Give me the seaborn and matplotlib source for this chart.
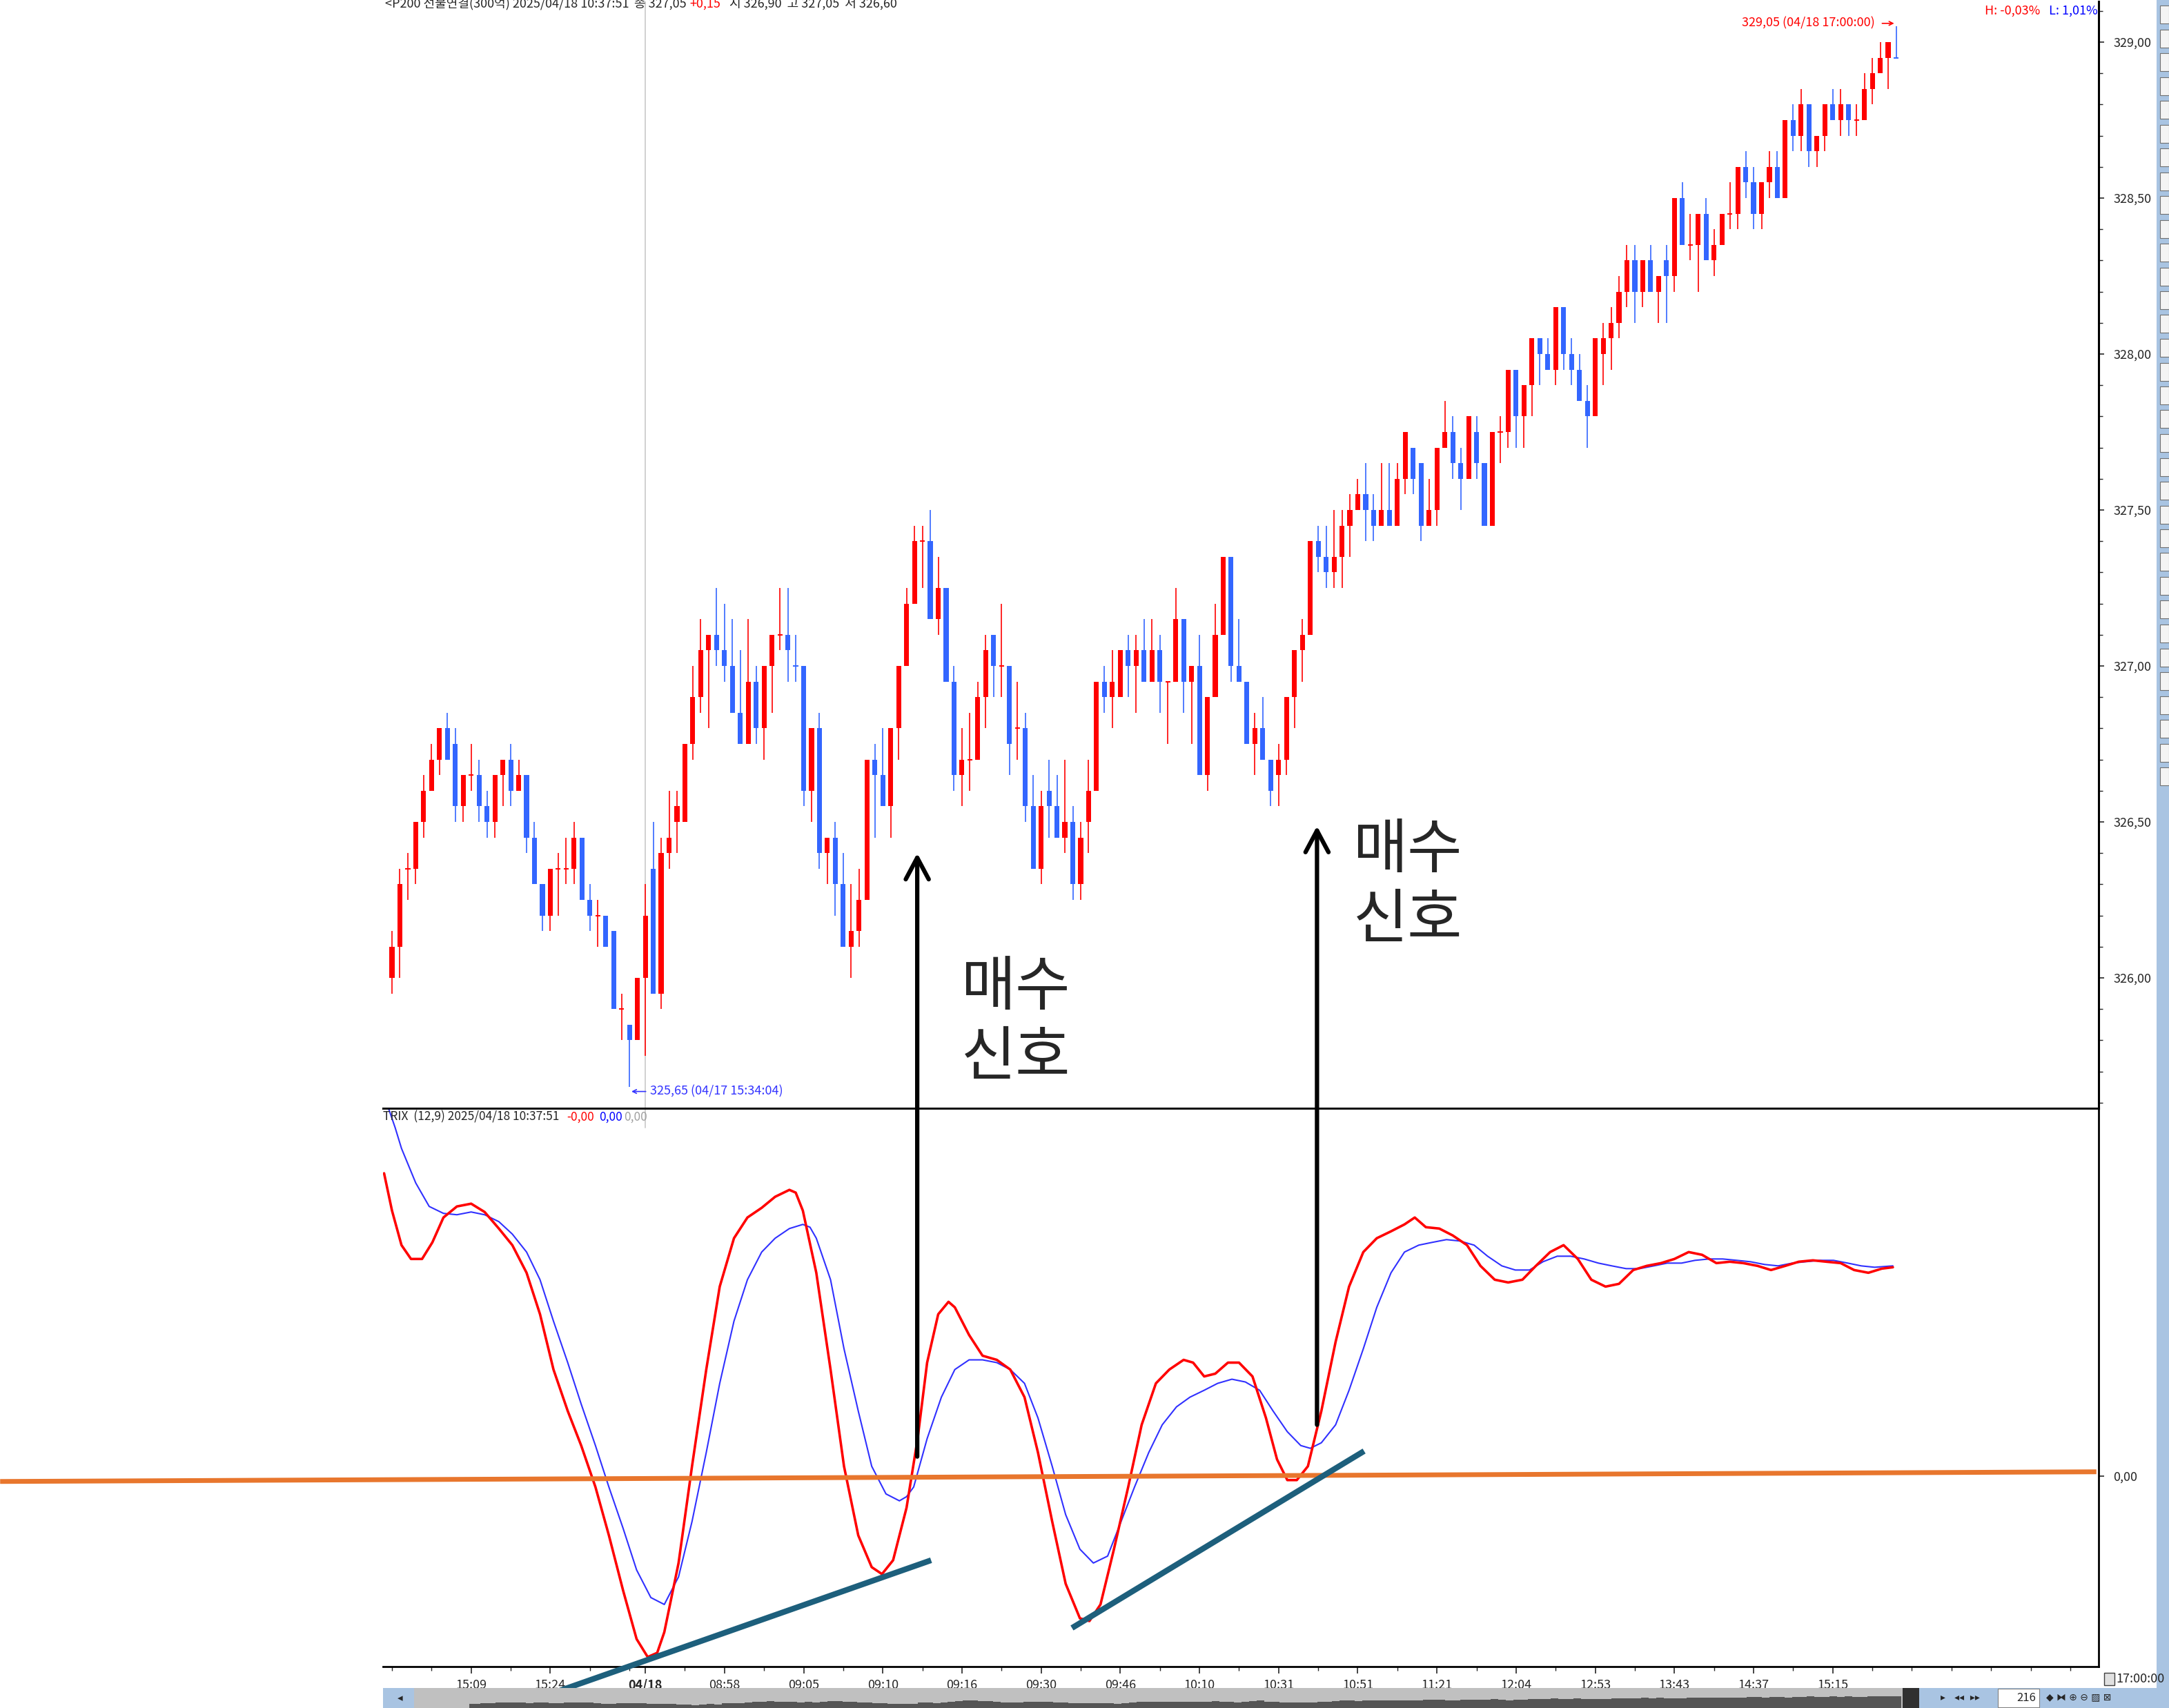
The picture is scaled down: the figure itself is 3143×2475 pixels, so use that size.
import numpy as np
import pandas as pd
import matplotlib
matplotlib.use("Agg")
import matplotlib.pyplot as plt
import seaborn as sns
from matplotlib.patches import ConnectionPatch, Rectangle

# ---- 5분봉 OHLC (KP200 선물) ----
opens = [326.00, 326.10, 326.35, 326.35, 326.50, 326.60, 326.70, 326.80, 326.75, 326.55,
         326.65, 326.65, 326.55, 326.50, 326.65, 326.70, 326.60, 326.65, 326.45, 326.30,
         326.20, 326.35, 326.35, 326.35, 326.45, 326.25, 326.20, 326.20, 326.15, 325.90,
         325.85, 325.80, 326.00, 326.35, 325.95, 326.40, 326.50, 326.50, 326.75, 326.90,
         327.05, 327.10, 327.05, 327.00, 326.85, 326.75, 326.95, 326.80, 327.00, 327.10,
         327.10, 327.00, 327.00, 326.60, 326.80, 326.40, 326.45, 326.30, 326.10, 326.15,
         326.25, 326.70, 326.65, 326.55, 326.80, 327.00, 327.20, 327.40, 327.40, 327.15,
         327.25, 326.95, 326.65, 326.70, 326.70, 326.90, 327.10, 327.00, 327.00, 326.80,
         326.80, 326.55, 326.35, 326.60, 326.55, 326.45, 326.50, 326.30, 326.50, 326.60,
         326.95, 326.90, 326.90, 327.05, 327.00, 327.05, 326.95, 327.05, 326.95, 326.95,
         327.15, 326.95, 327.00, 326.65, 326.90, 327.10, 327.35, 327.00, 326.95, 326.75,
         326.80, 326.70, 326.65, 326.70, 326.90, 327.05, 327.10, 327.40, 327.35, 327.30,
         327.35, 327.45, 327.50, 327.55, 327.50, 327.45, 327.50, 327.45, 327.60, 327.70,
         327.65, 327.45, 327.50, 327.70, 327.75, 327.65, 327.60, 327.75, 327.65, 327.45,
         327.75, 327.75, 327.95, 327.80, 327.90, 328.05, 328.00, 327.95, 328.15, 328.00,
         327.95, 327.85, 327.80, 328.00, 328.05, 328.10, 328.20, 328.30, 328.20, 328.30,
         328.20, 328.30, 328.25, 328.50, 328.35, 328.35, 328.45, 328.30, 328.35, 328.45,
         328.45, 328.60, 328.55, 328.45, 328.55, 328.60, 328.50, 328.75, 328.70, 328.80,
         328.65, 328.70, 328.80, 328.75, 328.80, 328.75, 328.75, 328.85, 328.90, 328.95,
         328.95]
highs = [326.15, 326.35, 326.40, 326.50, 326.65, 326.75, 326.80, 326.85, 326.80, 326.65,
         326.75, 326.70, 326.60, 326.65, 326.70, 326.75, 326.70, 326.65, 326.50, 326.30,
         326.35, 326.40, 326.45, 326.50, 326.45, 326.30, 326.25, 326.20, 326.15, 325.95,
         325.85, 326.00, 326.30, 326.50, 326.45, 326.60, 326.60, 326.75, 327.00, 327.15,
         327.10, 327.25, 327.20, 327.15, 327.05, 327.15, 327.00, 327.00, 327.10, 327.25,
         327.25, 327.10, 327.00, 326.80, 326.85, 326.45, 326.50, 326.40, 326.30, 326.35,
         326.70, 326.75, 326.80, 326.80, 327.00, 327.25, 327.45, 327.45, 327.50, 327.35,
         327.25, 327.00, 326.80, 326.85, 326.95, 327.10, 327.10, 327.20, 327.00, 326.95,
         326.85, 326.65, 326.60, 326.70, 326.65, 326.70, 326.55, 326.50, 326.70, 326.95,
         327.00, 327.05, 327.05, 327.10, 327.10, 327.15, 327.15, 327.10, 326.95, 327.25,
         327.15, 327.00, 327.10, 326.90, 327.20, 327.35, 327.35, 327.15, 326.95, 326.85,
         326.90, 326.70, 326.75, 326.90, 327.05, 327.15, 327.40, 327.45, 327.45, 327.50,
         327.50, 327.55, 327.60, 327.65, 327.55, 327.65, 327.65, 327.65, 327.75, 327.70,
         327.65, 327.60, 327.70, 327.85, 327.80, 327.70, 327.80, 327.80, 327.65, 327.75,
         327.80, 327.95, 327.95, 327.90, 328.05, 328.05, 328.05, 328.15, 328.15, 328.05,
         328.00, 327.90, 328.05, 328.10, 328.15, 328.25, 328.35, 328.35, 328.30, 328.35,
         328.25, 328.35, 328.50, 328.55, 328.45, 328.45, 328.50, 328.40, 328.45, 328.55,
         328.60, 328.65, 328.60, 328.55, 328.65, 328.65, 328.75, 328.80, 328.85, 328.80,
         328.70, 328.80, 328.85, 328.85, 328.80, 328.80, 328.90, 328.95, 329.00, 329.00,
         329.05]
lows = [325.95, 326.00, 326.25, 326.30, 326.45, 326.60, 326.65, 326.70, 326.50, 326.50,
        326.60, 326.50, 326.45, 326.45, 326.55, 326.55, 326.60, 326.40, 326.30, 326.15,
        326.15, 326.20, 326.30, 326.30, 326.25, 326.15, 326.10, 326.10, 325.90, 325.80,
        325.65, 325.80, 325.75, 325.95, 325.90, 326.35, 326.40, 326.50, 326.70, 326.85,
        326.80, 327.00, 326.95, 326.85, 326.75, 326.75, 326.75, 326.70, 326.85, 327.05,
        326.95, 326.95, 326.55, 326.50, 326.35, 326.30, 326.20, 326.10, 326.00, 326.10,
        326.25, 326.45, 326.55, 326.45, 326.70, 327.00, 327.20, 327.25, 327.15, 327.10,
        326.95, 326.60, 326.55, 326.60, 326.70, 326.80, 326.90, 326.90, 326.65, 326.70,
        326.50, 326.35, 326.30, 326.45, 326.45, 326.40, 326.25, 326.25, 326.40, 326.60,
        326.85, 326.80, 326.90, 326.90, 326.85, 326.95, 326.95, 326.85, 326.75, 326.95,
        326.85, 326.75, 326.65, 326.60, 326.90, 327.10, 326.95, 326.95, 326.75, 326.65,
        326.70, 326.55, 326.55, 326.65, 326.80, 326.95, 327.10, 327.30, 327.25, 327.25,
        327.25, 327.35, 327.50, 327.40, 327.40, 327.45, 327.45, 327.45, 327.55, 327.55,
        327.40, 327.45, 327.45, 327.70, 327.60, 327.50, 327.60, 327.60, 327.45, 327.45,
        327.65, 327.70, 327.70, 327.70, 327.80, 327.90, 327.95, 327.90, 327.95, 327.90,
        327.85, 327.70, 327.80, 327.90, 327.95, 328.05, 328.15, 328.10, 328.15, 328.20,
        328.10, 328.10, 328.20, 328.35, 328.30, 328.20, 328.30, 328.25, 328.35, 328.40,
        328.40, 328.50, 328.40, 328.40, 328.50, 328.50, 328.50, 328.65, 328.65, 328.60,
        328.60, 328.65, 328.75, 328.70, 328.70, 328.70, 328.75, 328.80, 328.90, 328.85,
        328.95]
closes = [326.10, 326.30, 326.35, 326.50, 326.60, 326.70, 326.80, 326.70, 326.55, 326.65,
          326.65, 326.55, 326.50, 326.65, 326.70, 326.60, 326.65, 326.45, 326.30, 326.20,
          326.35, 326.35, 326.35, 326.45, 326.25, 326.20, 326.20, 326.10, 325.90, 325.90,
          325.80, 326.00, 326.20, 325.95, 326.40, 326.45, 326.55, 326.75, 326.90, 327.05,
          327.10, 327.05, 327.00, 326.85, 326.75, 326.95, 326.80, 327.00, 327.10, 327.10,
          327.05, 327.00, 326.60, 326.80, 326.40, 326.45, 326.30, 326.10, 326.15, 326.25,
          326.70, 326.65, 326.55, 326.80, 327.00, 327.20, 327.40, 327.40, 327.15, 327.25,
          326.95, 326.65, 326.70, 326.70, 326.90, 327.05, 327.00, 327.00, 326.75, 326.80,
          326.55, 326.35, 326.55, 326.55, 326.45, 326.50, 326.30, 326.45, 326.60, 326.95,
          326.90, 326.95, 327.05, 327.00, 327.05, 326.95, 327.05, 326.95, 326.95, 327.15,
          326.95, 327.00, 326.65, 326.90, 327.10, 327.35, 327.00, 326.95, 326.75, 326.80,
          326.70, 326.60, 326.70, 326.90, 327.05, 327.10, 327.40, 327.35, 327.30, 327.35,
          327.45, 327.50, 327.55, 327.50, 327.45, 327.50, 327.45, 327.60, 327.75, 327.60,
          327.45, 327.50, 327.70, 327.75, 327.65, 327.60, 327.80, 327.65, 327.45, 327.75,
          327.75, 327.95, 327.80, 327.90, 328.05, 328.00, 327.95, 328.15, 328.00, 327.95,
          327.85, 327.80, 328.05, 328.05, 328.10, 328.20, 328.30, 328.20, 328.30, 328.20,
          328.25, 328.25, 328.50, 328.35, 328.35, 328.45, 328.30, 328.35, 328.45, 328.45,
          328.60, 328.55, 328.45, 328.55, 328.60, 328.50, 328.75, 328.70, 328.80, 328.65,
          328.70, 328.80, 328.75, 328.80, 328.75, 328.75, 328.85, 328.90, 328.95, 329.00,
          328.95]

# ---- TRIX(12) 와 시그널(9) ----
trix_x = [-1.0, 0.0, 1.2, 2.4, 3.8, 5.1, 6.5, 8.2, 10.0, 11.7, 13.5, 15.2, 17.0, 18.7, 20.4,
          22.2, 23.9, 25.7, 27.4, 29.2, 30.9, 32.3, 33.5, 34.4, 36.2, 37.9, 39.7, 41.4, 43.2,
          44.9, 46.7, 48.4, 50.2, 51.0, 51.9, 53.6, 55.4, 57.1, 58.9, 60.6, 61.9, 63.3, 65.0,
          66.4, 67.6, 69.0, 70.3, 71.1, 72.9, 74.6, 76.4, 78.1, 79.9, 81.6, 83.4, 85.1, 86.9,
          88.1, 89.5, 91.2, 93.0, 94.7, 96.5, 98.2, 100.0, 101.2, 102.6, 104.0, 105.6, 107.0,
          108.7, 110.4, 111.8, 113.1, 114.3, 115.7, 117.4, 119.2, 120.9, 122.7, 124.4, 126.2,
          127.9, 129.2, 130.6, 132.3, 134.0, 135.8, 137.5, 139.3, 141.0, 142.8, 144.5, 146.3,
          148.0, 149.8, 151.5, 153.3, 155.0, 156.8, 158.5, 160.3, 162.0, 163.8, 165.5, 167.3,
          169.0, 170.7, 172.5, 174.2, 176.0, 177.7, 179.5, 181.2, 183.0, 184.7, 186.5, 188.2,
          189.6]
trix_val = [0.0219, 0.0192, 0.0167, 0.0157, 0.0157, 0.0169, 0.0187, 0.0195, 0.0197, 0.0191,
            0.0179, 0.0167, 0.0147, 0.0117, 0.0077, 0.0047, 0.0022, -0.0008, -0.0043, -0.0083,
            -0.0118, -0.0131, -0.0128, -0.0113, -0.0063, 0.0007, 0.0077, 0.0137, 0.0172, 0.0187,
            0.0194, 0.0202, 0.0207, 0.0205, 0.0192, 0.0147, 0.0077, 0.0007, -0.0043, -0.0066,
            -0.0071, -0.0061, -0.0023, 0.0027, 0.0082, 0.0117, 0.0126, 0.0122, 0.0102, 0.0087,
            0.0084, 0.0077, 0.0057, 0.0017, -0.0033, -0.0078, -0.0103, -0.0105, -0.0093, -0.0053,
            -0.0008, 0.0037, 0.0067, 0.0077, 0.0084, 0.0082, 0.0072, 0.0074, 0.0082, 0.0082,
            0.0072, 0.0042, 0.0012, -0.0003, -0.0003, 0.0007, 0.0047, 0.0097, 0.0137, 0.0162,
            0.0172, 0.0177, 0.0182, 0.0187, 0.0180, 0.0179, 0.0174, 0.0167, 0.0152, 0.0142,
            0.0140, 0.0142, 0.0152, 0.0162, 0.0167, 0.0157, 0.0142, 0.0137, 0.0139, 0.0149,
            0.0152, 0.0154, 0.0157, 0.0162, 0.0160, 0.0154, 0.0155, 0.0154, 0.0152, 0.0149,
            0.0152, 0.0155, 0.0156, 0.0155, 0.0154, 0.0149, 0.0147, 0.0150, 0.0151]
signal_x = [-0.5, 0.4, 1.2, 3.0, 4.7, 6.5, 8.2, 10.0, 11.7, 13.5, 15.2, 17.0, 18.7, 20.4, 22.2,
            23.9, 25.7, 27.4, 29.2, 30.9, 32.7, 34.4, 36.2, 37.9, 39.7, 41.4, 43.2, 44.9, 46.7,
            48.4, 50.2, 51.9, 52.8, 53.6, 55.4, 57.1, 58.9, 60.6, 62.4, 64.1, 65.0, 65.9, 67.6,
            69.4, 71.1, 72.9, 74.6, 76.4, 78.1, 79.9, 81.6, 83.4, 85.1, 86.9, 88.6, 90.4, 92.1,
            93.8, 95.6, 97.3, 99.1, 100.8, 102.6, 104.3, 106.1, 107.8, 109.6, 111.3, 113.1,
            114.8, 116.0, 117.4, 119.2, 120.9, 122.7, 124.4, 126.2, 127.9, 129.7, 131.4, 133.2,
            134.9, 136.7, 138.4, 140.2, 141.9, 143.7, 145.4, 147.2, 148.9, 150.6, 152.4, 154.1,
            155.9, 157.6, 159.4, 161.1, 162.9, 164.6, 166.4, 168.1, 169.9, 171.6, 173.4, 175.1,
            176.9, 178.6, 180.4, 182.1, 183.9, 185.6, 187.3, 189.6]
signal_val = [0.0267, 0.0252, 0.0237, 0.0212, 0.0195, 0.0190, 0.0189, 0.0191, 0.0189, 0.0184,
              0.0175, 0.0162, 0.0142, 0.0112, 0.0082, 0.0052, 0.0022, -0.0008, -0.0038, -0.0068,
              -0.0088, -0.0093, -0.0073, -0.0033, 0.0017, 0.0067, 0.0112, 0.0142, 0.0162, 0.0172,
              0.0179, 0.0182, 0.0180, 0.0172, 0.0142, 0.0092, 0.0047, 0.0007, -0.0013, -0.0018,
              -0.0015, -0.0008, 0.0027, 0.0057, 0.0077, 0.0084, 0.0084, 0.0082, 0.0077, 0.0067,
              0.0042, 0.0007, -0.0028, -0.0053, -0.0063, -0.0058, -0.0033, -0.0008, 0.0017, 0.0037,
              0.0050, 0.0057, 0.0062, 0.0067, 0.0070, 0.0068, 0.0062, 0.0047, 0.0032, 0.0022,
              0.0020, 0.0024, 0.0037, 0.0062, 0.0092, 0.0122, 0.0147, 0.0162, 0.0167, 0.0169,
              0.0171, 0.0170, 0.0167, 0.0159, 0.0152, 0.0149, 0.0149, 0.0155, 0.0159, 0.0159,
              0.0157, 0.0154, 0.0152, 0.0150, 0.0150, 0.0152, 0.0154, 0.0154, 0.0156, 0.0157,
              0.0157, 0.0156, 0.0155, 0.0153, 0.0152, 0.0154, 0.0155, 0.0156, 0.0156, 0.0154,
              0.0152, 0.0151, 0.0152]

tick_pos = [10, 20, 32, 42, 52, 62, 72, 82, 92, 102, 112, 122, 132, 142, 152, 162, 172, 182]
tick_labels = ["15:09", "15:24", "04/18", "08:58", "09:05", "09:10", "09:16", "09:30", "09:46",
               "10:10", "10:31", "10:51", "11:21", "12:04", "12:53", "13:43", "14:37", "15:15"]
minor_pos = list(range(0, 31, 5)) + list(range(32, 216, 5))

sns.set_style("white")
plt.rcParams["font.family"] = ["Liberation Sans Narrow", "Noto Sans CJK KR", "DejaVu Sans"]
plt.rcParams["axes.unicode_minus"] = False

df = pd.DataFrame({"o": opens, "h": highs, "l": lows, "c": closes})
df["i"] = np.arange(len(df))
prev = df["c"].shift(1).fillna(df["o"])
up = (df["c"] > df["o"]) | ((df["c"] == df["o"]) & (df["c"] >= prev))
df["col"] = np.where(up, "#ff0000", "#3366ff")

fig = plt.figure(figsize=(31.43, 24.75), dpi=100)
ax = fig.add_axes([0.1766, 0.3511, 0.791, 0.6481])
ax2 = fig.add_axes([0.1766, 0.0242, 0.791, 0.3269])
xlim = (-1.13, 215.6)

# candles
ax.axvline(32, color="#c8c8c8", lw=1.2, zorder=0)
ax.vlines(df["i"], df["l"], df["h"], colors=df["col"], lw=1.2, zorder=2)
body = df[df["c"] != df["o"]]
ax.bar(body["i"], (body["c"] - body["o"]).abs(), bottom=body[["o", "c"]].min(axis=1),
       width=0.62, color=body["col"], lw=0, zorder=3)
doji = df[df["c"] == df["o"]]
ax.hlines(doji["c"], doji["i"] - 0.31, doji["i"] + 0.31, colors=doji["col"], lw=1.4, zorder=3)

ax.set_xlim(*xlim)
ax.set_ylim(325.582, 329.1305)
ax.yaxis.tick_right()
ax.set_yticks(np.arange(326.0, 329.01, 0.5))
ax.set_yticks(np.arange(325.6, 329.11, 0.1), minor=True)
ax.set_yticklabels([f"{v:.2f}".replace(".", ",") for v in np.arange(326.0, 329.01, 0.5)])
ax.tick_params(axis="y", which="major", direction="out", length=6, width=1.2,
               labelsize=13, pad=9, right=True, left=False)
ax.tick_params(axis="y", which="minor", direction="out", length=4, width=1.0, right=True)
ax.set_xticks([])
for s in ["left", "top"]:
    ax.spines[s].set_visible(False)
ax.spines["right"].set_linewidth(2.2)
ax.spines["bottom"].set_linewidth(2.2)
ax.spines["right"].set_color("black")
ax.spines["bottom"].set_color("black")

# price labels
ax.text(170.5, 329.06, "329,05 (04/18 17:00:00)", color="#ff0000", fontsize=13,
        va="center", ha="left")
ax.annotate("", xy=(190.0, 329.06), xytext=(188.0, 329.06),
            arrowprops=dict(arrowstyle="->", color="#ff0000", lw=1.2))
ax.text(32.6, 325.636, "325,65 (04/17 15:34:04)", color="#3333ff", fontsize=13,
        va="center", ha="left")
ax.annotate("", xy=(30.0, 325.636), xytext=(32.3, 325.636),
            arrowprops=dict(arrowstyle="->", color="#3333ff", lw=1.2))

# TRIX panel
ax2.axvline(32, ymin=0.965, ymax=1, color="#c8c8c8", lw=1.2, zorder=0)
sns.lineplot(x=signal_x, y=signal_val, ax=ax2, color="#3030ff", linewidth=1.5,
             estimator=None, sort=False, legend=False)
sns.lineplot(x=trix_x, y=trix_val, ax=ax2, color="#ff0000", linewidth=2.6,
             estimator=None, sort=False, legend=False)
for ln in ax2.get_lines():
    ln.set_solid_joinstyle("round")
ax2.set_xlim(*xlim)
ax2.set_ylim(-0.0138, 0.0266)
ax2.set_xlabel("")
ax2.set_ylabel("")
ax2.yaxis.tick_right()
ax2.set_yticks([0.0])
ax2.set_yticklabels(["0,00"])
ax2.tick_params(axis="y", direction="out", length=6, width=1.2, labelsize=13, pad=9,
                right=True, left=False)
ax2.set_xticks(tick_pos)
ax2.set_xticklabels(tick_labels)
ax2.set_xticks(minor_pos, minor=True)
ax2.tick_params(axis="x", which="major", direction="out", length=7, width=1.2,
                labelsize=13, pad=6, bottom=True)
ax2.tick_params(axis="x", which="minor", direction="out", length=4, width=1.0, bottom=True)
ax2.get_xticklabels()[2].set_fontweight("bold")
ax2.spines["left"].set_visible(False)
for s in ["top", "right", "bottom"]:
    ax2.spines[s].set_linewidth(2.0)
    ax2.spines[s].set_color("black")

ax2.text(0.0, 0.985, "TRIX  (12,9) 2025/04/18 10:37:51", transform=ax2.transAxes,
         fontsize=12.5, va="center", ha="left")
ax2.text(0.1072, 0.985, "-0,00", color="#ff0000", transform=ax2.transAxes,
         fontsize=12.5, va="center", ha="left")
ax2.text(0.1258, 0.985, "0,00", color="#0000ff", transform=ax2.transAxes,
         fontsize=12.5, va="center", ha="left")
ax2.text(0.1405, 0.985, "0,00", color="#a0a0a0", transform=ax2.transAxes,
         fontsize=12.5, va="center", ha="left")

# drawn annotations: zero line, trend lines, arrows, text
ax2.plot([-49.5, 215.3], [-0.0004, 0.0003], color="#e8762d", lw=5, clip_on=False,
         zorder=6, solid_capstyle="butt")
ax2.plot([19.9, 68.1], [-0.0158, -0.0061], color="#1d5f7c", lw=6, clip_on=False,
         zorder=7, solid_capstyle="butt")
ax2.plot([85.9, 122.8], [-0.0110, 0.0018], color="#1d5f7c", lw=6, clip_on=False,
         zorder=7, solid_capstyle="butt")

for xa, y0, y1 in [(66.35, 0.0014, 326.40), (116.85, 0.0037, 326.487)]:
    con = ConnectionPatch(xyA=(xa, y0), coordsA=ax2.transData, xyB=(xa, y1),
                          coordsB=ax.transData,
                          arrowstyle="->,head_length=0.75,head_width=0.4",
                          mutation_scale=30, lw=4.5, color="black",
                          shrinkA=0, shrinkB=0, zorder=10)
    fig.add_artist(con)

ax.text(71.9, 326.065, "매수\n신호", fontsize=62, family=["Noto Sans CJK KR"],
        va="top", ha="left", linespacing=1.2, zorder=10)
ax.text(121.4, 326.505, "매수\n신호", fontsize=62, family=["Noto Sans CJK KR"],
        va="top", ha="left", linespacing=1.2, zorder=10)

# header / corner texts
fig.text(0.1775, 0.9956, "<P200 선물연결(300억) 2025/04/18 10:37:51", fontsize=13,
         va="baseline", ha="left")
fig.text(0.2925, 0.9956, "종 327,05", fontsize=13, va="baseline", ha="left")
fig.text(0.3180, 0.9956, "+0,15", fontsize=13, va="baseline", ha="left", color="#ff0000")
fig.text(0.3362, 0.9956, "시 326,90  고 327,05  저 326,60", fontsize=13, va="baseline",
         ha="left")
fig.text(0.9151, 0.9935, "H: -0,03%", fontsize=13, va="center", ha="left", color="#ff0000")
fig.text(0.9446, 0.9935, "L: 1,01%", fontsize=13, va="center", ha="left", color="#0000ff")
fig.text(0.9755, 0.0170, "17:00:00", fontsize=13, va="center", ha="left")
fig.add_artist(Rectangle((0.9700, 0.0135), 0.0048, 0.0070, transform=fig.transFigure,
                         facecolor="#e0e0e0", edgecolor="#404040", lw=1))

# right toolbar
fig.add_artist(Rectangle((3125 / 3143, 0), 18 / 3143, 1, transform=fig.transFigure,
                         facecolor="#a9c4e2", edgecolor="none"))
for k in range(33):
    yk = 1 - (8 + k * 34.5) / 2475
    fig.add_artist(Rectangle((3130 / 3143, yk - 26 / 2475), 13 / 3143, 26 / 2475,
                             transform=fig.transFigure, facecolor="#f4f4f4",
                             edgecolor="#707070", lw=0.8))

# bottom scroll bar
sax = fig.add_axes([0, 0, 1, 29 / 2475])
sax.set_xlim(0, 3143)
sax.set_ylim(0, 1)
sax.axis("off")
sax.add_patch(Rectangle((555, 0), 45, 1, facecolor="#a9c4e2", edgecolor="none"))
sax.add_patch(Rectangle((600, 0), 2160, 1, facecolor="#c0c0c0", edgecolor="none"))
cl = np.array(closes)
sx = np.linspace(680, 2755, len(cl))
sax.fill_between(sx, 0, 0.15 + 0.45 * (cl - cl.min()) / (cl.max() - cl.min()),
                 step="mid", color="#555555", lw=0)
sax.add_patch(Rectangle((2757, 0), 24, 1, facecolor="#303030", edgecolor="none"))
sax.add_patch(Rectangle((2781, 0), 362, 1, facecolor="#a9c4e2", edgecolor="none"))
sax.add_patch(Rectangle((2895, 0.05), 60, 0.9, facecolor="white", edgecolor="#808080", lw=0.8))
sax.text(2950, 0.5, "216", fontsize=12, ha="right", va="center")
sax.text(580, 0.5, "◂", fontsize=11, ha="center", va="center", family=["DejaVu Sans"])
sax.text(2812, 0.5, "▸   ◂◂  ▸▸", fontsize=10, ha="left", va="center", family=["DejaVu Sans"])
sax.text(2965, 0.5, "◆ ⧓ ⊕ ⊖ ▨ ⊠", fontsize=10, ha="left", va="center", family=["DejaVu Sans"])

fig.savefig("out.png", dpi=100, facecolor="white")
